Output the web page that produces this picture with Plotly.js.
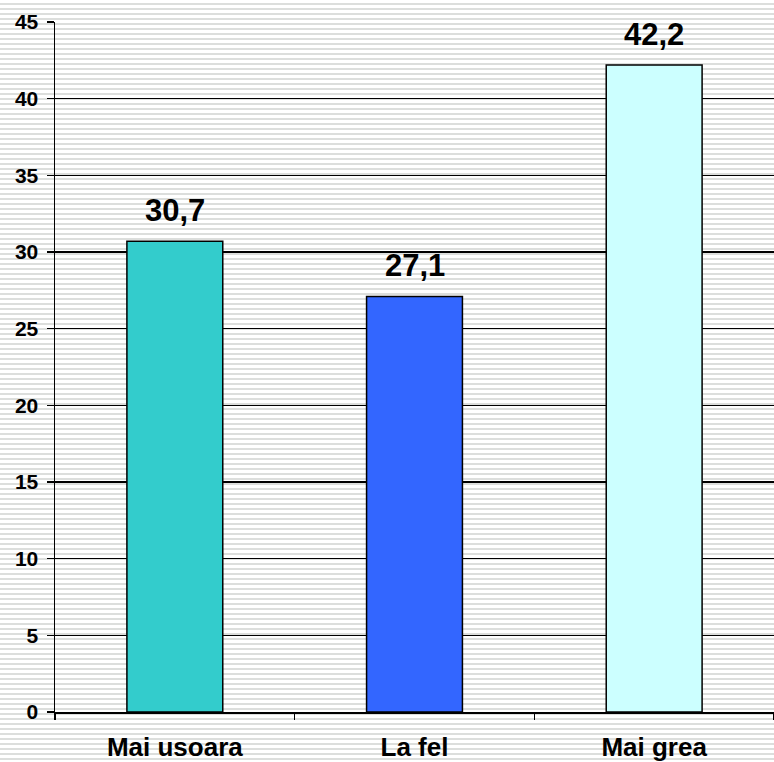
<!DOCTYPE html>
<html>
<head>
<meta charset="utf-8">
<script src="https://cdn.plot.ly/plotly-3.0.1.min.js"></script>
<style>
  html, body { margin: 0; padding: 0; }
  body {
    width: 774px; height: 762px; overflow: hidden;
    background: repeating-linear-gradient(to bottom, #ffffff 0px, #ffffff 3px, #dcdedc 3px, #dcdedc 5px);
  }
  #chart { width: 774px; height: 762px; }
</style>
</head>
<body>
<div id="chart"></div>
<script>
const categories = ["Mai usoara", "La fel", "Mai grea"];
const values = [30.7, 27.1, 42.2];
const barColors = ["#33CCCC", "#3366FF", "#CCFFFF"];
const tickValues = [0, 5, 10, 15, 20, 25, 30, 35, 40, 45];

const FONT = "Arial, 'Liberation Sans', sans-serif";

const trace = {
  type: "bar",
  x: categories,
  y: values,
  width: 0.4,
  marker: { color: barColors, line: { color: "#000000", width: 1.5 } },
  hoverinfo: "none"
};

const annotations = categories.map((c, i) => ({
  x: c, y: values[i], xref: "x", yref: "y",
  text: values[i].toFixed(1).replace(".", ","),
  showarrow: false, yanchor: "bottom", yshift: 11,
  font: { family: FONT, size: 31, color: "#000", weight: "bold" }
}));

const layout = {
  width: 774, height: 762,
  margin: { l: 55, r: 0, t: 22, b: 50 },
  paper_bgcolor: "rgba(0,0,0,0)",
  plot_bgcolor: "rgba(0,0,0,0)",
  showlegend: false,
  separators: ",.",
  xaxis: {
    type: "category",
    tickson: "boundaries",
    ticks: "outside", ticklen: 6, tickwidth: 1.5, tickcolor: "#000",
    showline: true, linecolor: "#000", linewidth: 1.5,
    showgrid: false,
    tickfont: { family: FONT, size: 26, color: "#000", weight: "bold" },
    ticklabelstandoff: 11
  },
  yaxis: {
    range: [0, 45],
    tickvals: tickValues,
    ticktext: tickValues.map(String),
    ticks: "outside", ticklen: 7, tickwidth: 1.5, tickcolor: "#000",
    showline: true, linecolor: "#000", linewidth: 1.5,
    showgrid: true, gridcolor: "#000", gridwidth: 1.2,
    zeroline: false,
    tickfont: { family: FONT, size: 21, color: "#000", weight: "bold" },
    ticklabelstandoff: 4
  },
  annotations: annotations
};

Plotly.newPlot("chart", [trace], layout, { displayModeBar: false, staticPlot: true });
</script>
</body>
</html>
